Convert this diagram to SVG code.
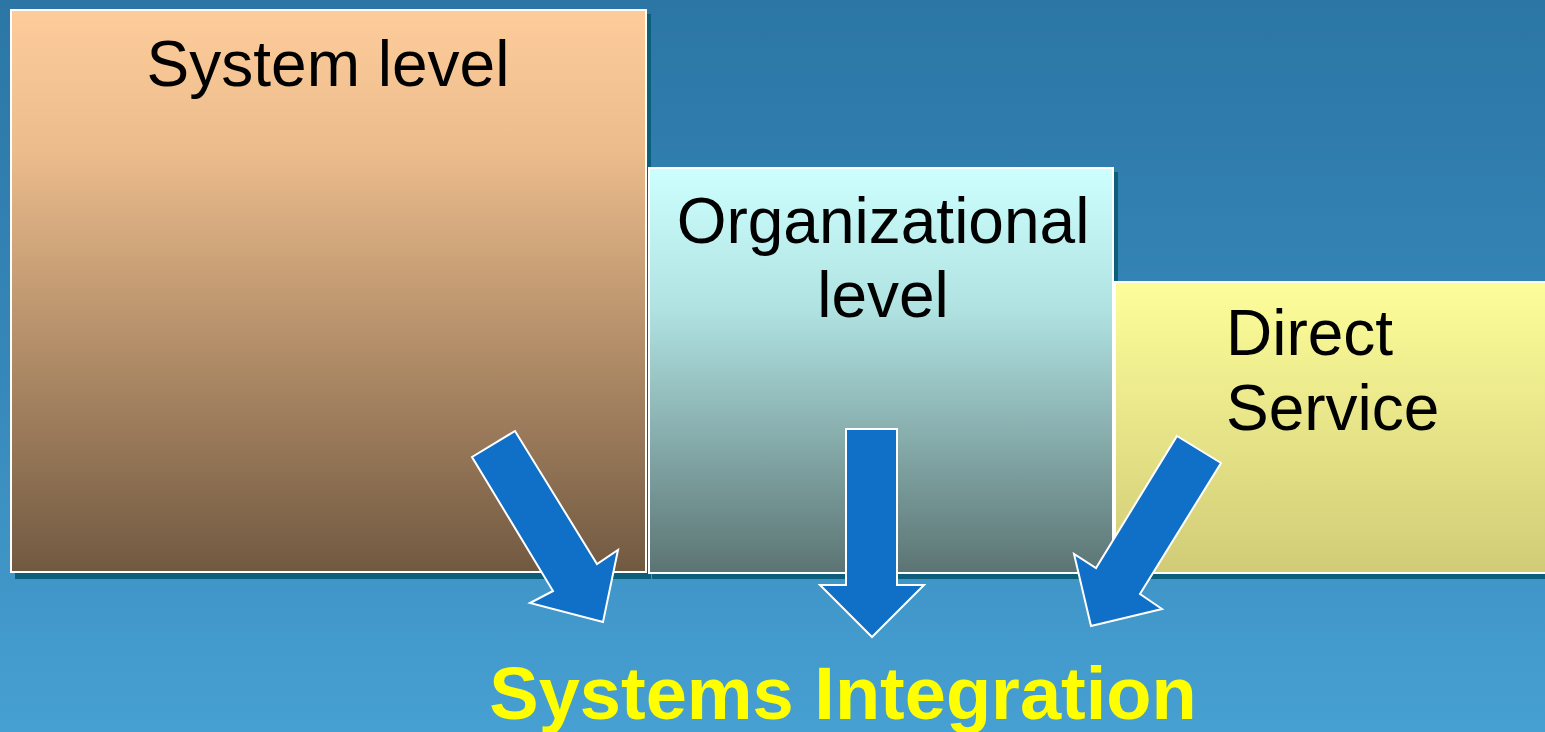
<svg xmlns="http://www.w3.org/2000/svg" width="1545" height="732" viewBox="0 0 1545 732">
<defs>
<linearGradient id="bg" x1="0" y1="0" x2="0" y2="1">
<stop offset="0" stop-color="#2b76a5"/>
<stop offset="0.5" stop-color="#3687b9"/>
<stop offset="1" stop-color="#47a0d2"/>
</linearGradient>
<linearGradient id="g1" x1="0" y1="0" x2="0" y2="1">
<stop offset="0" stop-color="#fecc9b"/>
<stop offset="0.25" stop-color="#ecbc8c"/>
<stop offset="1" stop-color="#715941"/>
</linearGradient>
<linearGradient id="g2" x1="0" y1="0" x2="0" y2="1">
<stop offset="0" stop-color="#ccfffe"/>
<stop offset="0.35" stop-color="#b0e2e2"/>
<stop offset="1" stop-color="#5b7473"/>
</linearGradient>
<linearGradient id="g3" x1="0" y1="0" x2="0" y2="1">
<stop offset="0" stop-color="#fdfe9a"/>
<stop offset="1" stop-color="#d1cb77"/>
</linearGradient>
<style>
.shadow{fill:#0b5f7a}
.box{stroke:#ffffff;stroke-width:2}
.lbl{font-family:"Liberation Sans",Arial,sans-serif;font-size:64px;fill:#000000}
.arrow{fill:#106fc6;stroke:#ffffff;stroke-width:2;stroke-linejoin:miter}
.title{font-family:"Liberation Sans",Arial,sans-serif;font-size:74px;font-weight:bold;fill:#ffff00}
</style>
</defs>
<rect x="0" y="0" width="1545" height="732" fill="url(#bg)"/>
<g id="node-system">
<rect class="shadow" x="15" y="14" width="636" height="565"/>
<rect class="box" x="11" y="10" width="635" height="562" fill="url(#g1)"/>
<text class="lbl" x="328" y="86" text-anchor="middle">System level</text>
</g>
<g id="node-org">
<rect class="shadow" x="652" y="172" width="466" height="407"/>
<rect class="box" x="649" y="168" width="464" height="405" fill="url(#g2)"/>
<text class="lbl" x="883" y="243" text-anchor="middle">Organizational</text>
<text class="lbl" x="883" y="317" text-anchor="middle">level</text>
</g>
<g id="node-direct">
<rect class="shadow" x="1118" y="286" width="432" height="293"/>
<rect class="box" x="1115" y="282" width="436" height="291" fill="url(#g3)"/>
<text class="lbl" x="1226" y="355">Direct</text>
<text class="lbl" x="1226" y="430">Service</text>
</g>
<g id="connectors">
<polygon class="arrow" points="472,457 515,431 597,564 618,550 603,622 530,603 553,591"/>
<polygon class="arrow" points="846,429 897,429 897,585 924,585 872,637 820,585 846,585"/>
<polygon class="arrow" points="1177,436 1221,463 1140,594 1162,609 1091,626 1074,554 1096,568"/>
</g>
<g id="title">
<text class="title" x="843" y="719" text-anchor="middle">Systems Integration</text>
</g>
</svg>
